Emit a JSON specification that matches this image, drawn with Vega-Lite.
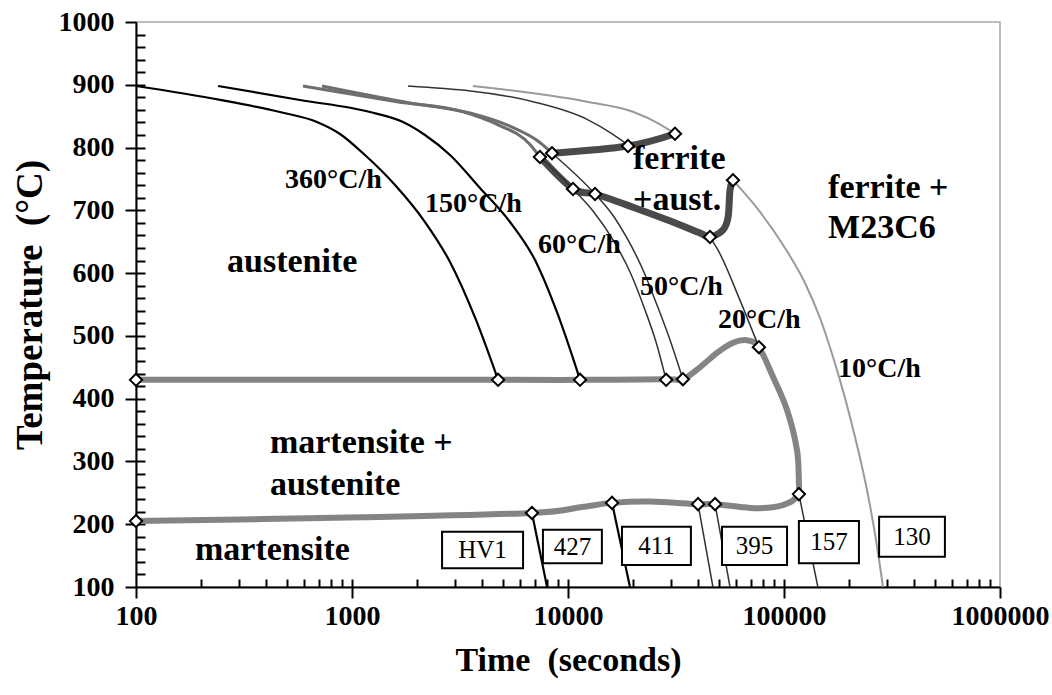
{
  "$schema": "https://vega.github.io/schema/vega-lite/v6.json",
  "width": 864,
  "height": 565,
  "autosize": "none",
  "padding": {"left": 136, "top": 22, "right": 52, "bottom": 108},
  "background": "white",
  "view": {"stroke": "#a8a8a8", "strokeWidth": 1.5},
  "config": {
    "font": "Liberation Serif",
    "axis": {"grid": false, "domainColor": "black", "domainWidth": 2, "tickColor": "black", "tickWidth": 2, "labelColor": "black", "titleColor": "black", "labelFont": "Liberation Serif", "titleFont": "Liberation Serif", "labelFontWeight": "bold", "titleFontWeight": "bold"}
  },
  "datasets": {
    "lines": [
      {"s": "c360", "g": "k", "o": 1, "t": 100, "T": 898},
      {"s": "c360", "g": "k", "o": 2, "t": 245, "T": 876},
      {"s": "c360", "g": "k", "o": 3, "t": 464, "T": 856.6},
      {"s": "c360", "g": "k", "o": 4, "t": 688, "T": 840.7},
      {"s": "c360", "g": "k", "o": 5, "t": 880, "T": 821.6},
      {"s": "c360", "g": "k", "o": 6, "t": 1148, "T": 788.1},
      {"s": "c360", "g": "k", "o": 7, "t": 1582, "T": 740.4},
      {"s": "c360", "g": "k", "o": 8, "t": 2178, "T": 681.4},
      {"s": "c360", "g": "k", "o": 9, "t": 2843, "T": 617.7},
      {"s": "c360", "g": "k", "o": 10, "t": 3750, "T": 525.4},
      {"s": "c360", "g": "k", "o": 11, "t": 4745, "T": 430},
      {"s": "c360m", "g": "k", "o": 1, "t": 6810, "T": 218},
      {"s": "c360m", "g": "k", "o": 2, "t": 8000, "T": 100},
      {"s": "c150", "g": "k", "o": 1, "t": 240, "T": 898},
      {"s": "c150", "g": "k", "o": 2, "t": 574, "T": 875.8},
      {"s": "c150", "g": "k", "o": 3, "t": 1211, "T": 856.6},
      {"s": "c150", "g": "k", "o": 4, "t": 1722, "T": 840.7},
      {"s": "c150", "g": "k", "o": 5, "t": 2178, "T": 820},
      {"s": "c150", "g": "k", "o": 6, "t": 2843, "T": 788.1},
      {"s": "c150", "g": "k", "o": 7, "t": 3914, "T": 735.6},
      {"s": "c150", "g": "k", "o": 8, "t": 5389, "T": 681.4},
      {"s": "c150", "g": "k", "o": 9, "t": 7034, "T": 620.9},
      {"s": "c150", "g": "k", "o": 10, "t": 8990, "T": 533.3},
      {"s": "c150", "g": "k", "o": 11, "t": 11370, "T": 430},
      {"s": "c150m", "g": "k", "o": 1, "t": 15990, "T": 234},
      {"s": "c150m", "g": "k", "o": 2, "t": 19360, "T": 100},
      {"s": "c60", "g": "g", "o": 1, "t": 593, "T": 898},
      {"s": "c60", "g": "g", "o": 2, "t": 1615, "T": 873},
      {"s": "c60", "g": "g", "o": 3, "t": 3266, "T": 857},
      {"s": "c60", "g": "g", "o": 4, "t": 4690, "T": 837},
      {"s": "c60", "g": "g", "o": 5, "t": 6670, "T": 805},
      {"s": "c60", "g": "g", "o": 6, "t": 7413, "T": 785},
      {"s": "c50", "g": "g", "o": 1, "t": 726, "T": 898},
      {"s": "c50", "g": "g", "o": 2, "t": 1858, "T": 871},
      {"s": "c50", "g": "g", "o": 3, "t": 3516, "T": 855},
      {"s": "c50", "g": "g", "o": 4, "t": 5383, "T": 834},
      {"s": "c50", "g": "g", "o": 5, "t": 7413, "T": 808},
      {"s": "c50", "g": "g", "o": 6, "t": 8433, "T": 791},
      {"s": "c60b", "g": "d", "o": 1, "t": 7413, "T": 785},
      {"s": "c60b", "g": "d", "o": 2, "t": 10550, "T": 734},
      {"s": "c60b", "g": "d", "o": 3, "t": 13054, "T": 698.9},
      {"s": "c60b", "g": "d", "o": 4, "t": 16160, "T": 652.8},
      {"s": "c60b", "g": "d", "o": 5, "t": 19370, "T": 601.8},
      {"s": "c60b", "g": "d", "o": 6, "t": 22730, "T": 541.3},
      {"s": "c60b", "g": "d", "o": 7, "t": 25550, "T": 490.3},
      {"s": "c60b", "g": "d", "o": 8, "t": 28470, "T": 430},
      {"s": "c50b", "g": "d", "o": 1, "t": 8433, "T": 791},
      {"s": "c50b", "g": "d", "o": 2, "t": 13340, "T": 726},
      {"s": "c50b", "g": "d", "o": 3, "t": 15980, "T": 694.2},
      {"s": "c50b", "g": "d", "o": 4, "t": 18960, "T": 652.8},
      {"s": "c50b", "g": "d", "o": 5, "t": 22250, "T": 604.9},
      {"s": "c50b", "g": "d", "o": 6, "t": 25820, "T": 549.2},
      {"s": "c50b", "g": "d", "o": 7, "t": 29670, "T": 493.5},
      {"s": "c50b", "g": "d", "o": 8, "t": 34040, "T": 431},
      {"s": "c60m", "g": "d", "o": 1, "t": 40000, "T": 232},
      {"s": "c60m", "g": "d", "o": 2, "t": 46880, "T": 100},
      {"s": "c50m", "g": "d", "o": 1, "t": 47960, "T": 232},
      {"s": "c50m", "g": "d", "o": 2, "t": 56230, "T": 100},
      {"s": "c20a", "g": "d", "o": 1, "t": 1815, "T": 898},
      {"s": "c20a", "g": "d", "o": 2, "t": 6890, "T": 873},
      {"s": "c20a", "g": "d", "o": 3, "t": 12250, "T": 845},
      {"s": "c20a", "g": "d", "o": 4, "t": 16150, "T": 821},
      {"s": "c20a", "g": "d", "o": 5, "t": 18960, "T": 804},
      {"s": "c20b", "g": "d", "o": 1, "t": 45430, "T": 657},
      {"s": "c20b", "g": "d", "o": 2, "t": 49430, "T": 637},
      {"s": "c20b", "g": "d", "o": 3, "t": 62520, "T": 557},
      {"s": "c20b", "g": "d", "o": 4, "t": 76530, "T": 482},
      {"s": "c20m", "g": "d", "o": 1, "t": 117200, "T": 248},
      {"s": "c20m", "g": "d", "o": 2, "t": 143500, "T": 100},
      {"s": "c10a", "g": "l", "o": 1, "t": 3630, "T": 898},
      {"s": "c10a", "g": "l", "o": 2, "t": 12250, "T": 873},
      {"s": "c10a", "g": "l", "o": 3, "t": 20000, "T": 857},
      {"s": "c10a", "g": "l", "o": 4, "t": 26670, "T": 837},
      {"s": "c10a", "g": "l", "o": 5, "t": 31290, "T": 822},
      {"s": "c10b", "g": "l", "o": 1, "t": 58060, "T": 748},
      {"s": "c10b", "g": "l", "o": 2, "t": 77460, "T": 697.4},
      {"s": "c10b", "g": "l", "o": 3, "t": 101070, "T": 640},
      {"s": "c10b", "g": "l", "o": 4, "t": 125070, "T": 584.3},
      {"s": "c10b", "g": "l", "o": 5, "t": 146780, "T": 528.5},
      {"s": "c10b", "g": "l", "o": 6, "t": 168660, "T": 466.4},
      {"s": "c10b", "g": "l", "o": 7, "t": 191600, "T": 401.1},
      {"s": "c10b", "g": "l", "o": 8, "t": 213200, "T": 339},
      {"s": "c10b", "g": "l", "o": 9, "t": 242300, "T": 254.5},
      {"s": "c10b", "g": "l", "o": 10, "t": 266600, "T": 174.9},
      {"s": "c10b", "g": "l", "o": 11, "t": 287300, "T": 100},
      {"s": "ftop", "g": "F", "o": 1, "t": 8433, "T": 791},
      {"s": "ftop", "g": "F", "o": 2, "t": 18960, "T": 802.5},
      {"s": "ftop", "g": "F", "o": 3, "t": 31290, "T": 822},
      {"s": "fbot", "g": "F", "o": 1, "t": 7413, "T": 785},
      {"s": "fbot", "g": "F", "o": 2, "t": 10550, "T": 734},
      {"s": "fbot", "g": "F", "o": 3, "t": 13340, "T": 726},
      {"s": "fbot", "g": "F", "o": 4, "t": 20000, "T": 705},
      {"s": "fbot", "g": "F", "o": 5, "t": 28700, "T": 685},
      {"s": "fbot", "g": "F", "o": 6, "t": 40810, "T": 664},
      {"s": "fbot", "g": "F", "o": 7, "t": 45430, "T": 657.5},
      {"s": "fbot", "g": "F", "o": 8, "t": 52240, "T": 669},
      {"s": "fbot", "g": "F", "o": 9, "t": 55100, "T": 689},
      {"s": "fbot", "g": "F", "o": 10, "t": 56230, "T": 732},
      {"s": "fbot", "g": "F", "o": 11, "t": 58060, "T": 748},
      {"s": "m430", "g": "M", "o": 1, "t": 100, "T": 430},
      {"s": "m430", "g": "M", "o": 2, "t": 4745, "T": 430},
      {"s": "m430", "g": "M", "o": 3, "t": 11370, "T": 430},
      {"s": "m430", "g": "M", "o": 4, "t": 28470, "T": 431},
      {"s": "m430", "g": "M", "o": 5, "t": 34040, "T": 431},
      {"s": "m430", "g": "M", "o": 6, "t": 40810, "T": 450},
      {"s": "m430", "g": "M", "o": 7, "t": 48960, "T": 473},
      {"s": "m430", "g": "M", "o": 8, "t": 58090, "T": 489},
      {"s": "m430", "g": "M", "o": 9, "t": 67400, "T": 493},
      {"s": "m430", "g": "M", "o": 10, "t": 76530, "T": 482},
      {"s": "m430", "g": "M", "o": 11, "t": 88900, "T": 435},
      {"s": "m430", "g": "M", "o": 12, "t": 103300, "T": 382},
      {"s": "m430", "g": "M", "o": 13, "t": 114900, "T": 318},
      {"s": "m430", "g": "M", "o": 14, "t": 117200, "T": 266},
      {"s": "m430", "g": "M", "o": 15, "t": 117200, "T": 248},
      {"s": "m200", "g": "M", "o": 1, "t": 100, "T": 205},
      {"s": "m200", "g": "M", "o": 2, "t": 1125, "T": 211},
      {"s": "m200", "g": "M", "o": 3, "t": 6810, "T": 218},
      {"s": "m200", "g": "M", "o": 4, "t": 11370, "T": 227},
      {"s": "m200", "g": "M", "o": 5, "t": 15990, "T": 234},
      {"s": "m200", "g": "M", "o": 6, "t": 23990, "T": 236},
      {"s": "m200", "g": "M", "o": 7, "t": 40000, "T": 232},
      {"s": "m200", "g": "M", "o": 8, "t": 47960, "T": 232},
      {"s": "m200", "g": "M", "o": 9, "t": 69690, "T": 226},
      {"s": "m200", "g": "M", "o": 10, "t": 88900, "T": 227},
      {"s": "m200", "g": "M", "o": 11, "t": 106600, "T": 235},
      {"s": "m200", "g": "M", "o": 12, "t": 117200, "T": 248}
    ],
    "pts": [
      {"t": 100, "T": 430}, {"t": 4745, "T": 430}, {"t": 11370, "T": 430}, {"t": 28470, "T": 430}, {"t": 34040, "T": 431}, {"t": 76530, "T": 482},
      {"t": 100, "T": 205}, {"t": 6810, "T": 218}, {"t": 15990, "T": 234}, {"t": 40000, "T": 232}, {"t": 47960, "T": 232}, {"t": 117200, "T": 248},
      {"t": 7413, "T": 785}, {"t": 8433, "T": 791}, {"t": 18960, "T": 802.5}, {"t": 31290, "T": 822},
      {"t": 10550, "T": 734}, {"t": 13340, "T": 726}, {"t": 45430, "T": 657.5}, {"t": 58060, "T": 748}
    ],
    "boxes": [
      {"lab": "HV1", "t1": 2612, "t2": 6194, "T1": 130, "T2": 188, "tc": 4022, "Tc": 159},
      {"lab": "427", "t1": 7654, "t2": 14350, "T1": 138, "T2": 191, "tc": 10480, "Tc": 164.5},
      {"lab": "411", "t1": 17780, "t2": 37060, "T1": 135, "T2": 196, "tc": 25670, "Tc": 165.5},
      {"lab": "395", "t1": 51640, "t2": 103300, "T1": 135, "T2": 196, "tc": 73040, "Tc": 165.5},
      {"lab": "157", "t1": 117200, "t2": 222300, "T1": 138, "T2": 205, "tc": 161400, "Tc": 171.5},
      {"lab": "130", "t1": 275600, "t2": 555900, "T1": 148, "T2": 212, "tc": 391400, "Tc": 180}
    ],
    "labels": [
      {"kind": "region", "text": "austenite", "t": 264, "T": 601.8},
      {"kind": "region", "text": "martensite +", "t": 417, "T": 313.5},
      {"kind": "region", "text": "austenite", "t": 417, "T": 246.6},
      {"kind": "region", "text": "martensite", "t": 187.5, "T": 143},
      {"kind": "region", "text": "ferrite", "t": 20000, "T": 765.8},
      {"kind": "region", "text": "+aust.", "t": 20000, "T": 700.5},
      {"kind": "region", "text": "ferrite +", "t": 160000, "T": 719.7},
      {"kind": "region", "text": "M23C6", "t": 160000, "T": 655.9},
      {"kind": "rate", "text": "360°C/h", "t": 490, "T": 735.6},
      {"kind": "rate", "text": "150°C/h", "t": 2178, "T": 697},
      {"kind": "rate", "text": "60°C/h", "t": 7260, "T": 632},
      {"kind": "rate", "text": "50°C/h", "t": 21540, "T": 565},
      {"kind": "rate", "text": "20°C/h", "t": 49430, "T": 512.6},
      {"kind": "rate", "text": "10°C/h", "t": 177800, "T": 434.5}
    ],
    "anchor": [{"t": 100, "T": 100}]
  },
  "resolve": {"axis": {"x": "independent", "y": "independent"}},
  "layer": [
    {
      "data": {"name": "anchor"},
      "mark": {"type": "point", "opacity": 0},
      "encoding": {
        "x": {"field": "t", "type": "quantitative", "scale": {"type": "log", "domain": [100, 1000000], "nice": false},
          "axis": {"orient": "bottom", "values": [100, 1000, 10000, 100000, 1000000], "format": "d", "tickSize": 11, "labelPadding": 4, "labelFontSize": 28, "labelFlush": false, "labelOverlap": false, "title": "Time\u00a0 (seconds)", "titleFontSize": 34, "titlePadding": 13}},
        "y": {"field": "T", "type": "quantitative", "scale": {"domain": [100, 1000], "nice": false, "zero": false},
          "axis": {"orient": "left", "values": [100, 200, 300, 400, 500, 600, 700, 800, 900, 1000], "format": "d", "tickSize": 11, "labelPadding": 11, "labelFontSize": 28, "title": "Temperature\u00a0 (°C)", "titleFontSize": 37, "titlePadding": 9}}
      }
    },
    {
      "data": {"name": "anchor"},
      "mark": {"type": "point", "opacity": 0},
      "encoding": {
        "x": {"field": "t", "type": "quantitative", "scale": {"type": "log", "domain": [100, 1000000], "nice": false},
          "axis": {"orient": "bottom", "values": [200, 300, 400, 500, 600, 700, 800, 900, 1000, 2000, 3000, 4000, 5000, 6000, 7000, 8000, 9000, 10000, 20000, 30000, 40000, 50000, 60000, 70000, 80000, 90000, 100000, 200000, 300000, 400000, 500000, 600000, 700000, 800000, 900000], "tickSize": -8, "labels": false, "domain": false, "title": null}},
        "y": {"field": "T", "type": "quantitative", "scale": {"domain": [100, 1000], "nice": false, "zero": false},
          "axis": {"orient": "left", "values": [120, 140, 160, 180, 200, 220, 240, 260, 280, 300, 320, 340, 360, 380, 400, 420, 440, 460, 480, 500, 520, 540, 560, 580, 600, 620, 640, 660, 680, 700, 720, 740, 760, 780, 800, 820, 840, 860, 880, 900, 920, 940, 960, 980], "tickSize": -9, "labels": false, "domain": false, "title": null}}
      }
    },
    {
      "data": {"name": "lines"},
      "transform": [{"filter": "datum.g === 'M'"}],
      "mark": {"type": "line", "color": "#848484", "strokeWidth": 6, "interpolate": "cardinal"},
      "encoding": {
        "x": {"field": "t", "type": "quantitative", "axis": null},
        "y": {"field": "T", "type": "quantitative", "axis": null},
        "detail": {"field": "s"},
        "order": {"field": "o"}
      }
    },
    {
      "data": {"name": "lines"},
      "transform": [{"filter": "datum.g === 'F'"}],
      "mark": {"type": "line", "color": "#4a4a4a", "strokeWidth": 7, "interpolate": "cardinal"},
      "encoding": {
        "x": {"field": "t", "type": "quantitative", "axis": null},
        "y": {"field": "T", "type": "quantitative", "axis": null},
        "detail": {"field": "s"},
        "order": {"field": "o"}
      }
    },
    {
      "data": {"name": "lines"},
      "transform": [{"filter": "datum.g === 'g'"}],
      "mark": {"type": "line", "color": "#6e6e6e", "strokeWidth": 3, "interpolate": "monotone"},
      "encoding": {
        "x": {"field": "t", "type": "quantitative", "axis": null},
        "y": {"field": "T", "type": "quantitative", "axis": null},
        "detail": {"field": "s"},
        "order": {"field": "o"}
      }
    },
    {
      "data": {"name": "lines"},
      "transform": [{"filter": "datum.g === 'd'"}],
      "mark": {"type": "line", "color": "#333333", "strokeWidth": 1.5, "interpolate": "monotone"},
      "encoding": {
        "x": {"field": "t", "type": "quantitative", "axis": null},
        "y": {"field": "T", "type": "quantitative", "axis": null},
        "detail": {"field": "s"},
        "order": {"field": "o"}
      }
    },
    {
      "data": {"name": "lines"},
      "transform": [{"filter": "datum.g === 'l'"}],
      "mark": {"type": "line", "color": "#9a9a9a", "strokeWidth": 2, "interpolate": "monotone"},
      "encoding": {
        "x": {"field": "t", "type": "quantitative", "axis": null},
        "y": {"field": "T", "type": "quantitative", "axis": null},
        "detail": {"field": "s"},
        "order": {"field": "o"}
      }
    },
    {
      "data": {"name": "lines"},
      "transform": [{"filter": "datum.g === 'k'"}],
      "mark": {"type": "line", "color": "#000000", "strokeWidth": 2.2, "interpolate": "monotone"},
      "encoding": {
        "x": {"field": "t", "type": "quantitative", "axis": null},
        "y": {"field": "T", "type": "quantitative", "axis": null},
        "detail": {"field": "s"},
        "order": {"field": "o"}
      }
    },
    {
      "data": {"name": "pts"},
      "mark": {"type": "point", "shape": "diamond", "size": 150, "filled": true, "fill": "white", "stroke": "black", "strokeWidth": 2, "opacity": 1},
      "encoding": {
        "x": {"field": "t", "type": "quantitative", "axis": null},
        "y": {"field": "T", "type": "quantitative", "axis": null}
      }
    },
    {
      "data": {"name": "boxes"},
      "mark": {"type": "rect", "fill": "white", "stroke": "black", "strokeWidth": 2},
      "encoding": {
        "x": {"field": "t1", "type": "quantitative", "axis": null},
        "x2": {"field": "t2"},
        "y": {"field": "T1", "type": "quantitative", "axis": null},
        "y2": {"field": "T2"}
      }
    },
    {
      "data": {"name": "boxes"},
      "mark": {"type": "text", "font": "Liberation Serif", "fontSize": 25, "align": "center", "baseline": "middle", "color": "black"},
      "encoding": {
        "x": {"field": "tc", "type": "quantitative", "axis": null},
        "y": {"field": "Tc", "type": "quantitative", "axis": null},
        "text": {"field": "lab"}
      }
    },
    {
      "data": {"name": "labels"},
      "transform": [{"filter": "datum.kind === 'region'"}],
      "mark": {"type": "text", "font": "Liberation Serif", "fontWeight": "bold", "fontSize": 34, "align": "left", "baseline": "alphabetic", "color": "black"},
      "encoding": {
        "x": {"field": "t", "type": "quantitative", "axis": null},
        "y": {"field": "T", "type": "quantitative", "axis": null},
        "text": {"field": "text"}
      }
    },
    {
      "data": {"name": "labels"},
      "transform": [{"filter": "datum.kind === 'rate'"}],
      "mark": {"type": "text", "font": "Liberation Serif", "fontWeight": "bold", "fontSize": 28, "align": "left", "baseline": "alphabetic", "color": "black"},
      "encoding": {
        "x": {"field": "t", "type": "quantitative", "axis": null},
        "y": {"field": "T", "type": "quantitative", "axis": null},
        "text": {"field": "text"}
      }
    }
  ]
}
